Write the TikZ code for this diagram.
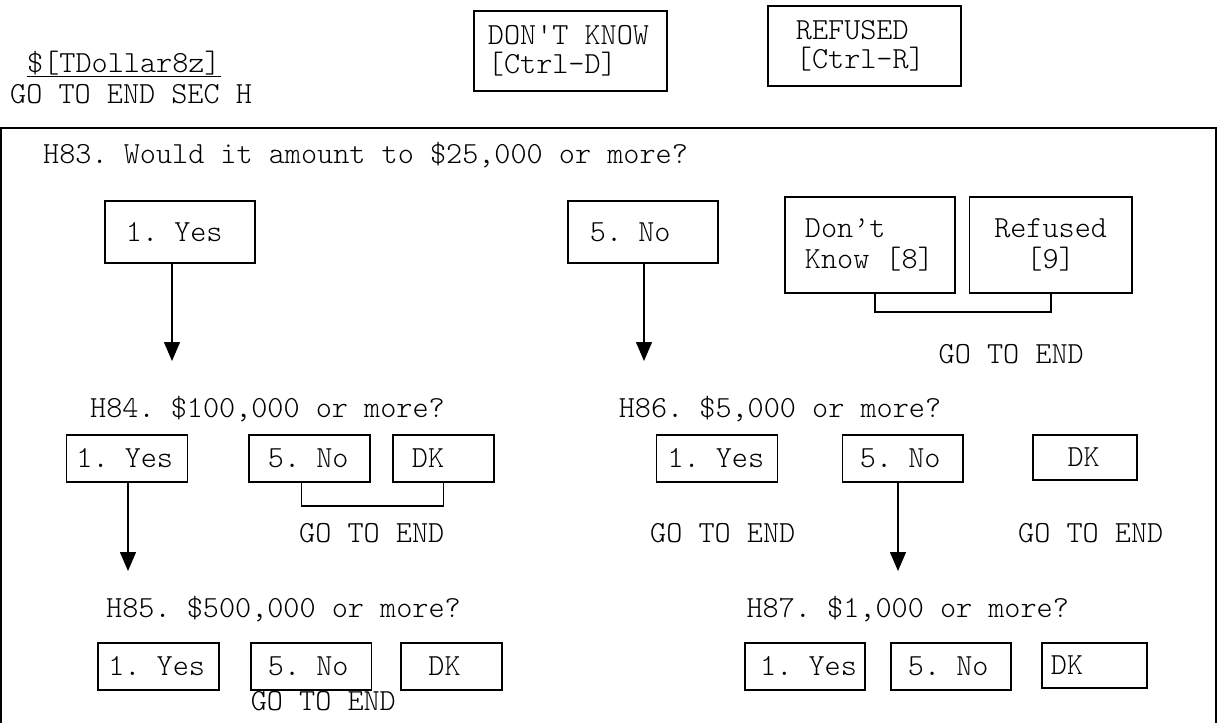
\documentclass[tikz,border=0pt]{standalone}
\usepackage{fontspec}
\setmainfont{Latin Modern Mono Light}[WordSpace={1,0,0}, PunctuationSpace=WordSpace]
\usetikzlibrary{arrows.meta, positioning}
\frenchspacing

\begin{document}
\begin{tikzpicture}[x=1pt, y=-1pt, font=\fontsize{30.7}{31}\selectfont]
    \tikzset{
        keybox/.style={draw, line width=1.8pt, anchor=north west, align=left,
            minimum height=80pt, inner ysep=0pt,
            font=\fontsize{30.7}{29}\selectfont,
            execute at begin node={\spaceskip=0pt\xspaceskip=0pt}},
        choicebox/.style={draw, line width=1.8pt, anchor=north west, align=left,
            minimum height=47pt, inner ysep=0pt,
            execute at begin node={\spaceskip=0pt\xspaceskip=0pt}},
        qtext/.style={anchor=base west, inner sep=0pt},
        downarrow/.style={line width=1.5pt, -{Triangle[length=19pt, width=16pt]}},
        joinline/.style={line width=1.8pt},
        frameline/.style={line width=2pt}
    }
    \useasboundingbox (0,0) rectangle (1221,723);
    % header
    \node[qtext] (tdollar) at (27,72) {\underline{\$[TDollar8z]}};
    \node[qtext] (endsec) at (10,103) {GO TO END SEC H};
    \node[keybox, text width=165pt, inner xsep=14pt] (dkkey) at (473,10)
        {DON\textquotesingle T KNOW\\{}[Ctrl-D]};
    \node[keybox, text width=137pt, inner xsep=28pt] (rfkey) at (767,5)
        {REFUSED\\{}[Ctrl-R]};
    \draw[frameline] (1,723) |- (1216,127.5) -- (1216,723);
    % H83
    \node[qtext] (q83) at (43,163) {H83. Would it amount to \$25,000 or more?};
    \node[choicebox, minimum height=62pt, text width=108pt, inner xsep=21pt] (yes83) at (104,200) {1. Yes};
    \node[choicebox, minimum height=62pt, text width=106pt, inner xsep=22pt] (no83) at (567,200) {5. No};
    \node[choicebox, minimum height=96pt, text width=130pt, inner xsep=20pt] (dk83) at (784,196) {Don’t\\Know [8]};
    \node[choicebox, minimum height=96pt, text width=142.5pt, inner xsep=10pt, align=center] (ref83) at (968.5,196) {Refused\\{}[9]};
    \draw[joinline] ([xshift=5pt]dk83.south) -- ++(0,18) -| (ref83.south);
    \node[qtext] (goend83) at (938.5,363) {GO TO END};
    \coordinate (t84) at (172,361);
    \coordinate (t86) at (644,361);
    \draw[downarrow] (t84 |- yes83.south) -- (t84);
    \draw[downarrow] (t86 |- no83.south) -- (t86);
    % H84
    \node[qtext] (q84) at (90,417) {H84. \$100,000 or more?};
    \node[choicebox, text width=101pt, inner xsep=10pt] (yes84) at (65.5,434) {1. Yes};
    \node[choicebox, text width=83pt, inner xsep=19pt] (no84) at (248,434) {5. No};
    \node[choicebox, text width=63pt, inner xsep=19pt] (dk84) at (392,434) {DK};
    \draw[joinline] ([xshift=-8pt]no84.south) -- ++(0,23) -| (dk84.south);
    \node[qtext] (goend84) at (299,542) {GO TO END};
    \coordinate (t85) at (128,571);
    \draw[downarrow] (t85 |- yes84.south) -- (t85);
    % H86
    \node[qtext] (q86) at (618.6,417) {H86. \$5,000 or more?};
    \node[choicebox, text width=99pt, inner xsep=11pt] (yes86) at (655.6,434) {1. Yes};
    \node[choicebox, text width=85.5pt, inner xsep=17.5pt] (no86) at (841.5,434) {5. No};
    \node[choicebox, minimum height=45pt, text width=34pt, inner xsep=35pt] (dk86) at (1031.7,434) {DK};
    \node[qtext] (goend86a) at (650,542) {GO TO END};
    \node[qtext] (goend86b) at (1018,542) {GO TO END};
    \coordinate (t87) at (898,571);
    \draw[downarrow] (t87 |- no86.south) -- (t87);
    % H85
    \node[qtext] (q85) at (106,617) {H85. \$500,000 or more?};
    \node[choicebox, text width=101pt, inner xsep=10pt] (yes85) at (97.4,642) {1. Yes};
    \node[choicebox, text width=86.6pt, inner xsep=17pt] (no85) at (250,642) {5. No};
    \node[choicebox, text width=46pt, inner xsep=27.5pt] (dk85) at (400,642) {DK};
    \node[qtext] (goend85) at (250.6,710) {GO TO END};
    % H87
    \node[qtext] (q87) at (746.4,617) {H87. \$1,000 or more?};
    \node[choicebox, text width=104.3pt, inner xsep=8pt, align=right] (yes87) at (743.7,642) {1. Yes};
    \node[choicebox, text width=86pt, inner xsep=17pt] (no87) at (890,642) {5. No};
    \node[choicebox, minimum height=45pt, text width=87pt, inner xsep=9pt] (dk87) at (1041,642) {DK};
\end{tikzpicture}
\end{document}
